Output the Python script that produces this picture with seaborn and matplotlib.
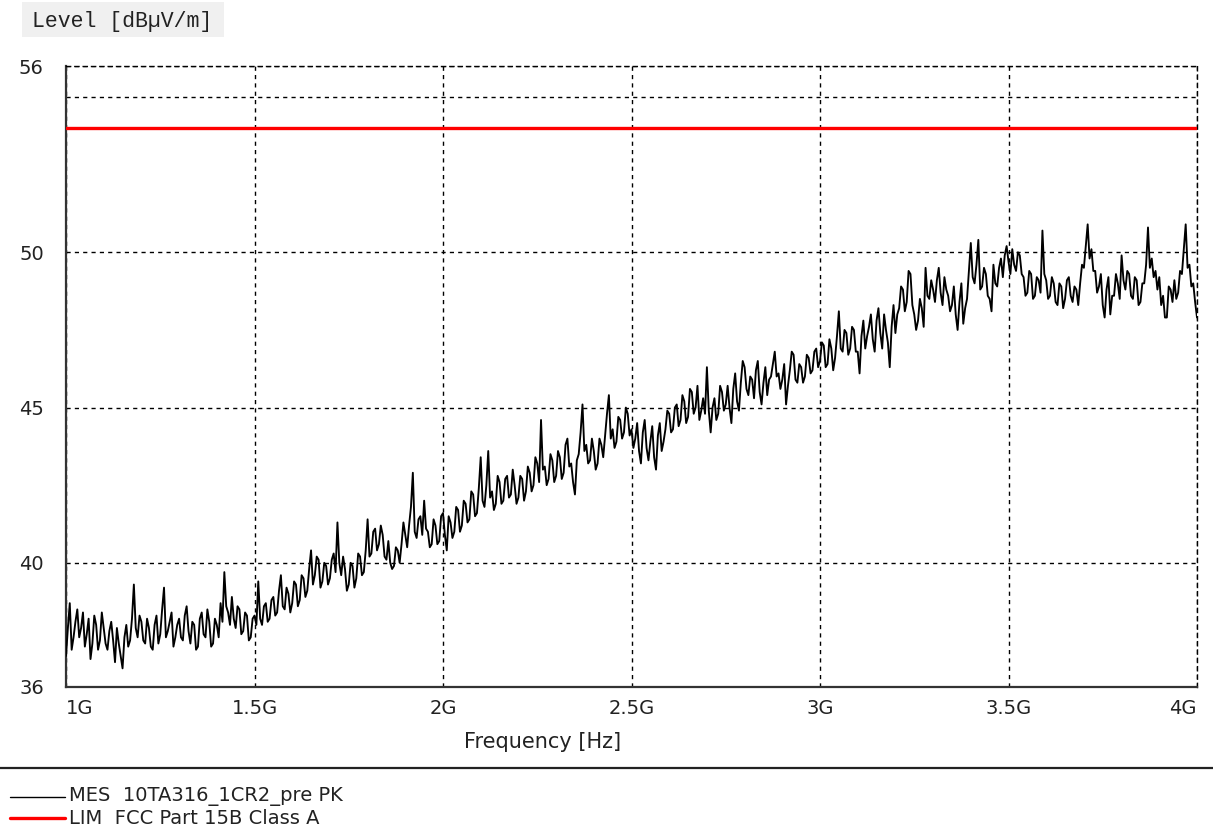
import numpy as np
import pandas as pd
import matplotlib
matplotlib.use("Agg")
import matplotlib.pyplot as plt
import seaborn as sns
from matplotlib.patches import Rectangle
from matplotlib.lines import Line2D

# ---------------- data ----------------
freq_start_hz = 1.0e9
freq_stop_hz = 4.0e9
n_points = 601  # 5 MHz steps

level_dbuv = [
    37.0, 37.9, 38.7, 37.2, 37.6, 38.1, 38.5, 37.6, 37.9, 38.4, 37.3, 37.7, 38.2, 36.9, 37.4, 38.3, 38.0, 37.2, 37.5, 38.4,
    37.9, 37.4, 37.2, 37.8, 38.1, 37.5, 36.8, 37.9, 37.4, 37.0, 36.6, 37.6, 38.0, 37.3, 37.5, 38.2, 39.3, 37.9, 37.6, 38.3,
    38.1, 37.5, 37.4, 38.2, 37.9, 37.3, 37.2, 38.0, 38.3, 37.4, 37.7, 38.5, 39.2, 37.6, 37.8, 38.1, 38.4, 37.3, 37.6, 38.0,
    38.2, 37.6, 37.5, 38.3, 38.6, 37.8, 37.4, 38.1, 38.0, 37.2, 37.3, 38.2, 38.4, 37.7, 37.6, 38.5, 38.1, 37.3, 37.4, 38.2,
    38.0, 37.6, 38.7, 38.1, 39.7, 38.6, 38.4, 38.0, 38.9, 38.2, 37.9, 38.6, 38.5, 37.7, 37.8, 38.4, 38.3, 37.5, 37.6, 38.2,
    38.3, 38.0, 39.4, 38.2, 38.0, 38.6, 38.7, 38.1, 38.2, 38.8, 38.9, 38.3, 38.4, 39.1, 39.6, 38.6, 38.5, 39.2, 39.0, 38.4,
    38.7, 39.4, 39.3, 38.6, 38.8, 39.6, 39.5, 38.9, 39.1, 39.8, 40.4, 39.3, 39.6, 40.2, 40.1, 39.2, 39.4, 40.0, 39.9, 39.3,
    39.5, 40.1, 40.3, 39.7, 41.3, 40.0, 39.6, 40.2, 39.8, 39.1, 39.3, 40.0, 39.9, 39.2, 39.5, 40.3, 40.2, 39.6, 39.7, 40.4,
    41.4, 40.2, 40.3, 41.0, 41.1, 40.4, 40.6, 41.2, 40.9, 40.2, 40.1, 40.7, 40.0, 39.8, 39.9, 40.5, 40.4, 40.0, 40.6, 41.3,
    40.9, 40.5, 41.2, 41.8, 42.9, 41.0, 40.8, 41.4, 41.5, 40.9, 42.0, 41.1, 41.0, 40.5, 40.6, 41.4, 41.2, 40.6, 40.7, 41.5,
    41.6, 40.9, 40.4, 41.5, 41.3, 40.8, 41.0, 41.8, 41.7, 41.0, 41.2, 42.0, 41.9, 41.3, 41.4, 42.3, 42.2, 41.5, 41.6, 42.4,
    43.4, 42.0, 41.8, 42.5, 43.6, 42.1, 42.3, 41.7, 41.9, 42.8, 42.6, 41.9, 42.0, 42.7, 42.8, 42.1, 42.2, 43.0, 42.5, 41.9,
    42.1, 42.8, 42.7, 42.0, 42.3, 43.1, 42.9, 42.3, 42.5, 43.4, 43.2, 42.6, 44.6, 43.0, 43.1, 42.5, 42.7, 43.5, 43.3, 42.6,
    42.8, 43.6, 43.4, 42.7, 42.9, 43.8, 44.0, 43.1, 43.2, 42.6, 42.2, 43.3, 43.5, 44.2, 45.1, 43.6, 43.8, 43.2, 43.3, 44.0,
    43.6, 43.0, 43.2, 44.0, 43.8, 43.4, 44.1, 44.8, 45.4, 44.0, 44.3, 43.7, 43.9, 44.7, 44.6, 44.0, 44.2, 45.0, 44.8, 44.1,
    44.3, 43.7, 44.0, 44.5, 43.6, 43.2, 44.2, 44.6, 43.7, 43.3, 43.9, 44.4, 43.4, 43.0, 44.1, 44.5, 43.6, 43.9, 44.3, 44.9,
    44.8, 44.2, 44.3, 45.0, 45.1, 44.4, 44.6, 45.4, 45.2, 44.5, 44.7, 45.6, 45.5, 44.8, 45.0, 45.7, 44.6, 44.9, 45.3, 44.8,
    46.3, 44.9, 44.2, 45.0, 45.3, 44.6, 44.8, 45.7, 45.5, 44.9, 45.1, 45.7, 45.0, 44.5, 45.6, 46.1, 45.2, 44.9, 45.8, 46.5,
    46.3, 45.6, 45.4, 46.0, 45.9, 45.3, 46.2, 46.5, 45.5, 45.1, 45.8, 46.3, 45.4, 45.9, 46.0, 46.4, 46.8, 46.0, 46.1, 45.6,
    45.9, 46.4, 45.1, 45.7, 46.2, 46.8, 46.7, 45.9, 45.8, 46.4, 46.3, 45.8, 46.0, 46.7, 46.6, 46.1, 46.2, 46.8, 46.9, 46.3,
    46.5, 47.1, 47.0, 46.3, 46.4, 47.2, 46.9, 46.2, 46.6, 47.3, 48.1, 46.9, 46.8, 47.5, 47.4, 46.7, 46.9, 47.6, 47.5, 46.8,
    46.8, 46.1, 47.3, 47.8, 46.9, 47.3, 47.6, 48.0, 47.2, 46.8, 47.8, 48.2, 47.4, 46.9, 48.0, 47.5, 47.1, 46.3, 47.6, 48.3,
    47.4, 48.0, 48.2, 48.9, 48.8, 48.1, 48.4, 49.4, 49.3, 48.3, 48.0, 47.5, 47.8, 48.5, 48.2, 47.6, 49.5, 48.6, 48.5, 49.1,
    48.8, 48.4, 49.1, 49.5, 48.7, 48.3, 49.2, 48.8, 48.6, 48.1, 48.3, 48.9, 48.0, 47.5, 48.4, 49.0, 47.7, 48.2, 48.5, 49.4,
    50.3, 49.2, 49.0, 49.6, 50.4, 48.8, 48.9, 49.5, 49.3, 48.6, 48.5, 48.1, 49.6, 49.0, 48.9, 49.5, 49.8, 49.2, 49.9, 50.2,
    49.7, 49.3, 50.1, 49.6, 49.4, 50.0, 49.9, 49.3, 49.2, 48.6, 48.7, 49.4, 49.3, 48.5, 48.6, 49.2, 49.1, 48.7, 50.7, 49.3,
    49.1, 48.5, 48.6, 49.2, 49.0, 48.4, 48.3, 49.0, 48.9, 48.2, 48.5, 49.1, 49.2, 48.6, 48.4, 48.9, 48.8, 48.3, 49.0, 49.6,
    49.5, 50.2, 50.9, 49.8, 50.1, 49.4, 49.4, 48.7, 48.9, 49.3, 48.3, 47.9, 48.8, 49.2, 48.0, 48.6, 48.6, 49.3, 49.0, 48.5,
    49.9, 49.1, 48.8, 49.4, 49.3, 48.6, 48.5, 49.2, 49.1, 48.3, 48.4, 49.0, 49.0, 49.6, 50.8, 49.5, 49.8, 49.2, 49.4, 48.8,
    49.2, 48.3, 48.6, 47.9, 47.9, 48.9, 48.8, 48.4, 49.1, 48.5, 48.7, 49.4, 49.3, 50.1, 50.9, 49.5, 49.6, 48.9, 49.0, 48.4,
    47.9,
]
freq_hz = np.linspace(freq_start_hz, freq_stop_hz, n_points)

limit_freq_hz = [1.0e9, 4.0e9]
limit_level = [54.0, 54.0]

x_ticks = [1.0e9, 1.5e9, 2.0e9, 2.5e9, 3.0e9, 3.5e9, 4.0e9]
x_tick_labels = ["1G", "1.5G", "2G", "2.5G", "3G", "3.5G", "4G"]
y_ticks = [36, 40, 45, 50, 56]
y_tick_labels = ["36", "40", "45", "50", "56"]
y_minor_grid = [55]

title_text = "Level [dB\u00b5V/m]"
x_label_text = "Frequency [Hz]"
legend_labels = ["MES  10TA316_1CR2_pre PK", "LIM  FCC Part 15B Class A"]

# ---------------- style ----------------
sns.set_style("white")
plt.rcParams["font.family"] = ["DejaVu Sans"]

W, H = 1213, 831
fig = plt.figure(figsize=(W / 100, H / 100), dpi=100)
fig.patch.set_facecolor("white")

ax = fig.add_axes([66 / W, 1 - 687 / H, 1131 / W, 621 / H])

df = pd.DataFrame({"freq": freq_hz, "level": level_dbuv})
sns.lineplot(data=df, x="freq", y="level", ax=ax, color="black",
             linewidth=1.35, estimator=None, sort=False, zorder=3)
sns.lineplot(x=limit_freq_hz, y=limit_level, ax=ax, color="#ff0000",
             linewidth=2.4, estimator=None, zorder=4)

ax.set_xlim(freq_start_hz, freq_stop_hz)
ax.set_ylim(36, 56)
ax.set_xticks(x_ticks)
ax.set_xticklabels(x_tick_labels)
ax.set_yticks(y_ticks)
ax.set_yticklabels(y_tick_labels)
ax.set_yticks(y_minor_grid, minor=True)
ax.set_xlabel("")
ax.set_ylabel("")

dash = (0, (3, 3))
ax.grid(which="both", axis="y", color="black", linestyle=dash, linewidth=1.0)
ax.grid(which="major", axis="x", color="black", linestyle=dash, linewidth=1.0)
ax.set_axisbelow(True)

for s in ["left", "bottom"]:
    ax.spines[s].set_color("#333333")
    ax.spines[s].set_linewidth(1.6)
for s in ["top", "right"]:
    ax.spines[s].set_color("black")
    ax.spines[s].set_linewidth(1.0)
    ax.spines[s].set_linestyle(dash)

ax.tick_params(axis="both", which="both", length=0, labelsize=14, colors="#222222")
ax.tick_params(axis="y", pad=16)
ax.tick_params(axis="x", pad=9)
xtl = ax.get_xticklabels()
xtl[0].set_horizontalalignment("left")
xtl[-1].set_horizontalalignment("right")

# x label
fig.text(543 / W, 1 - 742 / H, x_label_text, ha="center", va="center",
         fontsize=15, color="#222222")

# title box
fig.patches.append(Rectangle((22 / W, 1 - 37 / H), 202 / W, 35 / H,
                             transform=fig.transFigure, facecolor="#f0f0f0",
                             edgecolor="none"))
fig.text(32 / W, 1 - 22 / H, title_text, ha="left", va="center",
         fontsize=15.5, family=["Liberation Mono", "DejaVu Sans Mono"],
         color="#222222")

# separator
fig.lines.append(Line2D([0, 1], [1 - 768 / H, 1 - 768 / H],
                        transform=fig.transFigure, color="#222222", linewidth=1.6))

# legend
fig.lines.append(Line2D([10 / W, 65 / W], [1 - 797 / H, 1 - 797 / H],
                        transform=fig.transFigure, color="black", linewidth=1.0))
fig.lines.append(Line2D([10 / W, 65 / W], [1 - 818 / H, 1 - 818 / H],
                        transform=fig.transFigure, color="#ff0000", linewidth=2.4))
fig.text(69 / W, 1 - 796 / H, legend_labels[0], ha="left", va="center",
         fontsize=14, color="#222222")
fig.text(69 / W, 1 - 818 / H, legend_labels[1], ha="left", va="center",
         fontsize=14, color="#222222")

fig.savefig("out.png", dpi=100)
